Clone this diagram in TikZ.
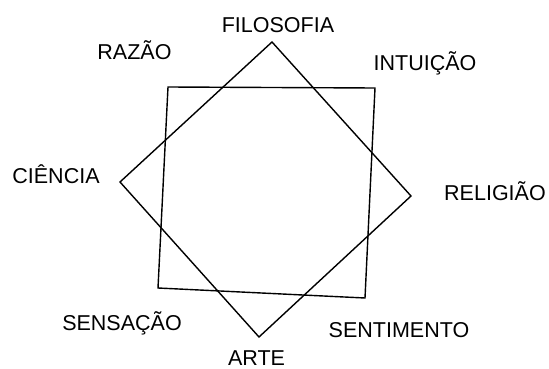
\documentclass[tikz,border=0pt]{standalone}
\usepackage{fontspec}
\setmainfont{Liberation Sans}
\begin{document}
\begin{tikzpicture}[x=1pt,y=-1pt,
  shape line/.style={draw=black, line width=1.4pt, line join=miter},
  lbl/.style={inner sep=0pt, text height=15.5pt, text depth=0pt, anchor=center, font=\fontsize{21.5}{22}\selectfont}]
\useasboundingbox (0,0) rectangle (549,369);
% diamond
\coordinate (dT) at (272,42);
\coordinate (dR) at (411,196);
\coordinate (dB) at (259,337);
\coordinate (dL) at (120,182);
% square
\coordinate (sTL) at (168,87);
\coordinate (sTR) at (375,88);
\coordinate (sBR) at (365,298);
\coordinate (sBL) at (158,288);
\draw[shape line] (dT) -- (dR) -- (dB) -- (dL) -- cycle;
\draw[shape line] (sTL) -- (sTR) -- (sBR) -- (sBL) -- cycle;
% labels
\node[lbl] (filo) at (278,25) {FILOSOFIA};
\node[lbl] (raz) at (134.5,52) {RAZÃO};
\node[lbl] (intu) at (425,63) {INTUIÇÃO};
\node[lbl] (cien) at (56,176) {CIÊNCIA};
\node[lbl] (reli) at (495,193) {RELIGIÃO};
\node[lbl] (sens) at (122,323) {SENSAÇÃO};
\node[lbl] (sent) at (399,330) {SENTIMENTO};
\node[lbl] (arte) at (256.5,358) {ARTE};
\end{tikzpicture}
\end{document}
